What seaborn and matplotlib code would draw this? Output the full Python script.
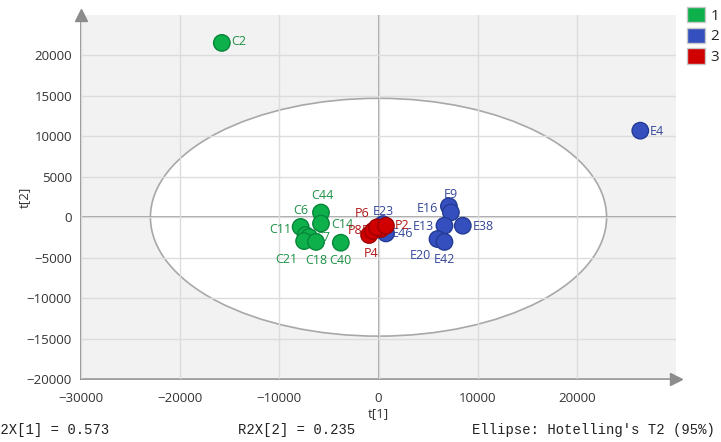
import matplotlib
matplotlib.use("Agg")
import matplotlib.pyplot as plt
from matplotlib.patches import Ellipse, Patch
from matplotlib.ticker import MultipleLocator
import seaborn as sns
import pandas as pd

# ---- data ----
names = ["C2", "C44", "C14", "C6", "C11", "C7", "C21", "C18", "C40",
         "E4", "E9", "E16", "E13", "E38", "E20", "E42", "E23", "E46",
         "P4", "P8", "P3", "P6", "P2"]
t1 = [-15800, -5800, -5800, -7850, -7350, -7000, -7500, -6300, -3800,
      26400, 7100, 7300, 6650, 8500, 5950, 6650, 450, 750,
      -950, -550, 250, -150, 750]
t2 = [21550, 580, -780, -1200, -2200, -2450, -2950, -3050, -3150,
      10700, 1350, 600, -1050, -1050, -2700, -3050, -850, -2000,
      -2200, -1700, -1450, -1250, -1050]
groups = ["1"] * 9 + ["2"] * 9 + ["3"] * 5
ellipse_a = 23000
ellipse_b = 14700
x_ticks = [-30000, -20000, -10000, 0, 10000, 20000]
y_ticks = [-20000, -15000, -10000, -5000, 0, 5000, 10000, 15000, 20000]
r2x1 = "R2X[1] = 0.573"
r2x2 = "R2X[2] = 0.235"
ellipse_note = "Ellipse: Hotelling's T2 (95%)"

# label offsets in pixels (dx right, dy down)
offsets = {
    "C2": (17, -1), "C44": (1, -17), "C14": (21, 1), "C6": (0, -16),
    "C11": (-25, -6), "C7": (14, 0), "C21": (-18, 18), "C18": (0, 19),
    "C40": (0, 18), "E4": (17, 1), "E9": (2, -12), "E16": (-23, -4),
    "E13": (-21, 1), "E38": (21, 1), "E20": (-17, 16), "E42": (0, 18),
    "E23": (0, -13), "E46": (17, 0), "P4": (2, 18), "P8": (-18, 0),
    "P3": (-12, 2), "P6": (-15, -14), "P2": (16, 0),
}

fill = {"1": "#0DB04B", "2": "#3550BE", "3": "#D00000"}
edge = {"1": "#07863A", "2": "#233A95", "3": "#9E0000"}
txtc = {"1": "#1E9147", "2": "#34479A", "3": "#B01515"}

df = pd.DataFrame({"name": names, "t1": t1, "t2": t2, "group": groups})

sns.set_style("white")
plt.rcParams["font.family"] = ["Open Sans", "DejaVu Sans"]

fig = plt.figure(figsize=(7.21, 4.42), dpi=100)
W, H = 721, 442
ax = fig.add_axes([81 / W, 1 - 379 / H, (676 - 81) / W, (379 - 15) / H])
ax.set_facecolor("#F2F2F2")

ax.add_patch(Ellipse((0, 0), 2 * ellipse_a, 2 * ellipse_b, facecolor="white",
                     edgecolor="#A8A8A8", lw=1.2, zorder=0.5))

ax.set_xlim(-30000, 30000)
ax.set_ylim(-20000, 25000)
ax.set_xticks(x_ticks)
ax.set_yticks(y_ticks)
ax.xaxis.set_minor_locator(MultipleLocator(2000))
ax.yaxis.set_minor_locator(MultipleLocator(1000))
ax.grid(True, which="major", color="#DCDCDC", lw=1, zorder=0.8)
ax.set_axisbelow(False)
for g in ax.get_xgridlines() + ax.get_ygridlines():
    g.set_zorder(0.8)

ax.axvline(0, color="#8C8C8C", lw=1.1, zorder=1)
ax.axhline(0, color="#8C8C8C", lw=1.1, zorder=1)

for s in ["top", "right"]:
    ax.spines[s].set_visible(False)
for s in ["left", "bottom"]:
    ax.spines[s].set_color("#8C8C8C")
    ax.spines[s].set_linewidth(1.2)

ax.tick_params(which="major", direction="inout", length=7, color="#8C8C8C",
               labelsize=9.5, labelcolor="#333333", pad=3)
ax.tick_params(which="minor", direction="out", length=3, color="#8C8C8C")
ax.tick_params(axis="x", pad=6)

# arrows
ax.plot([0], [1.0], marker="^", markersize=9, color="#8C8C8C",
        transform=ax.transAxes, clip_on=False, zorder=5)
ax.plot([1.0], [0], marker=">", markersize=9, color="#8C8C8C",
        transform=ax.transAxes, clip_on=False, zorder=5)

sns.scatterplot(data=df, x="t1", y="t2", hue="group", palette=fill,
                s=140, edgecolor=[edge[g] for g in groups], linewidth=1,
                legend=False, ax=ax, zorder=4)

for n, x, y, g in zip(names, t1, t2, groups):
    dx, dy = offsets[n]
    ax.annotate(n, (x, y), xytext=(dx * 0.72, -dy * 0.72),
                textcoords="offset points", ha="center", va="center",
                fontsize=9, color=txtc[g], zorder=3)

ax.set_xlabel("t[1]", fontsize=9.5, color="#333333", labelpad=1)
ax.set_ylabel("t[2]", fontsize=9.5, color="#333333", labelpad=-2)
ax.yaxis.set_label_coords(-50 / (676 - 81), 0.5)

handles = [Patch(facecolor=fill[k], edgecolor="#C8C8C8", lw=1, label=k)
           for k in ["1", "2", "3"]]
fig.legend(handles=handles, loc="upper left",
           bbox_to_anchor=(687 / W, 1 - 7 / H), frameon=False,
           fontsize=11, handlelength=1.18, handleheight=1.18,
           handletextpad=0.35, labelspacing=0.24, borderpad=0,
           borderaxespad=0)

mono = "Liberation Mono"
fig.text(-8 / W, 1 - 430 / H, r2x1, family=mono, fontsize=10,
         va="center", ha="left", color="#222222")
fig.text(238 / W, 1 - 430 / H, r2x2, family=mono, fontsize=10,
         va="center", ha="left", color="#222222")
fig.text(715 / W, 1 - 430 / H, ellipse_note, family=mono, fontsize=10,
         va="center", ha="right", color="#222222")

fig.savefig("out.png", dpi=100)
